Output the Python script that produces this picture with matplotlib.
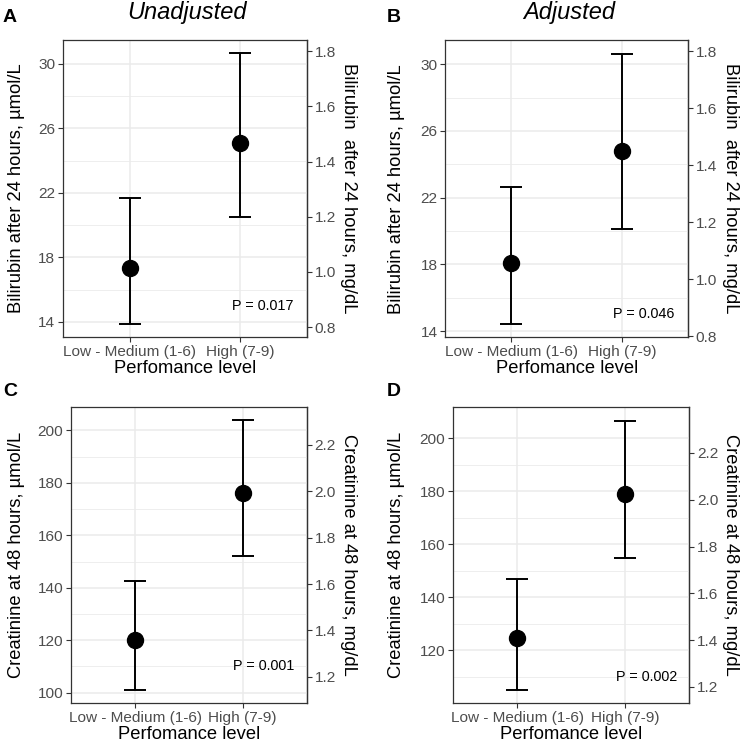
import matplotlib
matplotlib.use("Agg")
import matplotlib.pyplot as plt
import numpy as np

plt.rcParams['font.family'] = ['Liberation Sans', 'DejaVu Sans']

categories = ["Low - Medium (1-6)", "High (7-9)"]

bili_unadj_mean = [17.33, 25.08]
bili_unadj_lo = [13.90, 20.51]
bili_unadj_hi = [21.69, 30.64]

bili_adj_mean = [18.07, 24.81]
bili_adj_lo = [14.44, 20.12]
bili_adj_hi = [22.66, 30.64]

creat_unadj_mean = [120.1, 176.1]
creat_unadj_lo = [101.1, 152.1]
creat_unadj_hi = [142.7, 203.9]

creat_adj_mean = [124.4, 178.9]
creat_adj_lo = [105.0, 154.8]
creat_adj_hi = [147.0, 206.6]

p_values = ["P = 0.017", "P = 0.046", "P = 0.001", "P = 0.002"]

bili_ticks = [14, 18, 22, 26, 30]
bili_minor = [16, 20, 24, 28]
bili_right_ticks = [0.8, 1.0, 1.2, 1.4, 1.6, 1.8]
creat_ticks_c = [100, 120, 140, 160, 180, 200]
creat_ticks_d = [120, 140, 160, 180, 200]
creat_minor = [110, 130, 150, 170, 190]
creat_right_ticks = [1.2, 1.4, 1.6, 1.8, 2.0, 2.2]

BILI_F = 17.1
CREAT_F = 88.4

W, H = 743, 747
fig = plt.figure(figsize=(W / 100, H / 100), dpi=100)

def add_ax(l, r, t, b):
    return fig.add_axes([l / W, 1 - b / H, (r - l) / W, (b - t) / H])

panels = [
    dict(box=(63, 307, 40, 337), mean=bili_unadj_mean, lo=bili_unadj_lo, hi=bili_unadj_hi,
         ticks=bili_ticks, minor=bili_minor, rticks=bili_right_ticks, f=BILI_F,
         ylab="Bilirubin after 24 hours, µmol/L", rlab="Bilirubin  after 24 hours, mg/dL",
         p=p_values[0], py=15, lx=25, rx=348),
    dict(box=(445.3, 688, 40, 337.3), mean=bili_adj_mean, lo=bili_adj_lo, hi=bili_adj_hi,
         ticks=bili_ticks, minor=bili_minor, rticks=bili_right_ticks, f=BILI_F,
         ylab="Bilirubin after 24 hours, µmol/L", rlab="Bilirubin  after 24 hours, mg/dL",
         p=p_values[1], py=15, lx=405, rx=731),
    dict(box=(71, 307, 406.7, 703.3), mean=creat_unadj_mean, lo=creat_unadj_lo, hi=creat_unadj_hi,
         ticks=creat_ticks_c, minor=creat_minor, rticks=creat_right_ticks, f=CREAT_F,
         ylab="Creatinine at 48 hours, µmol/L", rlab="Creatinine at 48 hours, mg/dL",
         p=p_values[2], py=110, lx=25, rx=348),
    dict(box=(453, 689.3, 407.3, 703.3), mean=creat_adj_mean, lo=creat_adj_lo, hi=creat_adj_hi,
         ticks=creat_ticks_d, minor=creat_minor, rticks=creat_right_ticks, f=CREAT_F,
         ylab="Creatinine at 48 hours, µmol/L", rlab="Creatinine at 48 hours, mg/dL",
         p=p_values[3], py=110, lx=405, rx=731),
]

grey_txt = "#4D4D4D"
for pdef in panels:
    l, r, t, b = pdef["box"]
    ax = add_ax(l, r, t, b)
    x = np.arange(1, len(categories) + 1)
    mean = np.array(pdef["mean"])
    lo = np.array(pdef["lo"])
    hi = np.array(pdef["hi"])
    ax.errorbar(x, mean, yerr=[mean - lo, hi - mean], fmt="none", ecolor="black",
                elinewidth=1.4, capsize=7.8, capthick=1.4, zorder=3)
    ax.plot(x, mean, "o", color="black", markersize=11.5, zorder=4)
    dmin, dmax = lo.min(), hi.max()
    pad = 0.05 * (dmax - dmin)
    ax.set_ylim(dmin - pad, dmax + pad)
    ax.set_xlim(0.4, 2.6)
    ax.set_xticks(x)
    ax.set_xticklabels(categories)
    ax.set_yticks(pdef["ticks"])
    ax.set_yticks(pdef["minor"], minor=True)
    ax.grid(True, which="major", color="#EBEBEB", linewidth=1.1, zorder=0)
    ax.grid(True, which="minor", axis="y", color="#EBEBEB", linewidth=0.6, zorder=0)
    ax.set_axisbelow(True)
    for s in ax.spines.values():
        s.set_color("#333333")
        s.set_linewidth(0.9)
    ax.tick_params(axis="both", which="major", length=3.5, width=0.8, color="#333333",
                   labelsize=11.1, labelcolor=grey_txt, pad=2)
    ax.tick_params(axis="y", which="minor", length=0)
    ax.set_xlabel("Perfomance level", fontsize=13.2, labelpad=1)
    ax.set_ylabel(pdef["ylab"], fontsize=13.2)
    ax.yaxis.set_label_coords((pdef["lx"] - l) / (r - l), 0.5)
    ax.text(2.2, pdef["py"], pdef["p"], ha="center", va="center", fontsize=10.4, color="black")
    f = pdef["f"]
    sec = ax.secondary_yaxis("right", functions=(lambda v, f=f: v / f, lambda v, f=f: v * f))
    sec.set_yticks(pdef["rticks"])
    sec.set_yticklabels([f"{v:.1f}" for v in pdef["rticks"]])
    sec.tick_params(axis="y", length=3.5, width=0.8, color="#333333",
                    labelsize=11.1, labelcolor=grey_txt, pad=2)
    sec.spines["right"].set_color("#333333")
    sec.spines["right"].set_linewidth(0.9)
    fig.text(pdef["rx"] / W, 1 - ((t + b) / 2) / H, pdef["rlab"], fontsize=13.2,
             rotation=-90, ha="center", va="center")

fig.text(186.7 / W, 1 - 12 / H, "Unadjusted", ha="center", va="center",
         fontsize=17, style="italic")
fig.text(568.7 / W, 1 - 12 / H, "Adjusted", ha="center", va="center",
         fontsize=17, style="italic")
for lab, px, py in [("A", 3, 17), ("B", 387, 17), ("C", 3, 392), ("D", 387, 392)]:
    fig.text(px / W, 1 - py / H, lab, ha="left", va="center", fontsize=14, fontweight="bold")

fig.savefig("out.png", dpi=100)
